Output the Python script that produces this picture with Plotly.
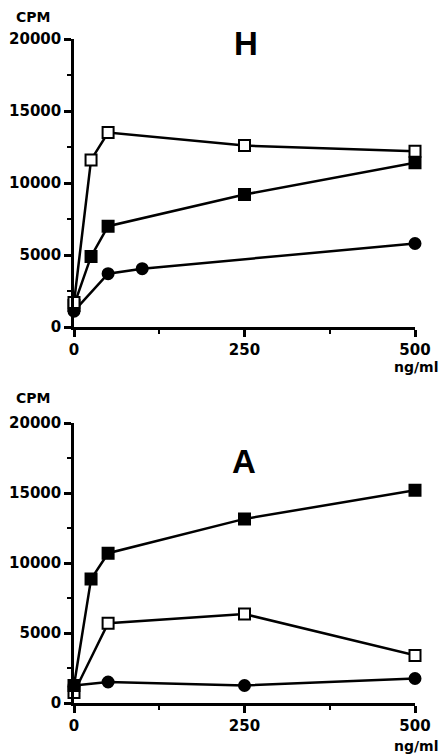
import plotly.graph_objects as go
from plotly.subplots import make_subplots

# Panel H
h_open_x = [0, 25, 50, 250, 500]
h_open_y = [1700, 11600, 13500, 12600, 12200]
h_fill_x = [0, 25, 50, 250, 500]
h_fill_y = [1500, 4900, 7000, 9200, 11400]
h_circ_x = [0, 50, 100, 500]
h_circ_y = [1100, 3700, 4050, 5800]

# Panel A
a_fill_x = [0, 25, 50, 250, 500]
a_fill_y = [1250, 8850, 10700, 13150, 15200]
a_open_x = [0, 50, 250, 500]
a_open_y = [750, 5700, 6350, 3400]
a_circ_x = [0, 50, 250, 500]
a_circ_y = [1250, 1500, 1250, 1750]

x_ticks = [0, 250, 500]
y_ticks = [0, 5000, 10000, 15000, 20000]

W, H = 440, 754
ML, MR, MT, MB = 74, 25, 39, 51
PW, PH = W - ML - MR, H - MT - MB

fig = make_subplots(rows=2, cols=1, vertical_spacing=0.1)

TICKFONT = "DejaVu Sans"
TITLEFONT = "Liberation Sans"


def add_series(row, xs, ys, symbol, fill):
    fig.add_trace(go.Scatter(
        x=xs, y=ys, mode="lines+markers", cliponaxis=False,
        line=dict(color="black", width=2.5),
        marker=dict(symbol=symbol, size=11, color=fill,
                    line=dict(color="black", width=2)),
        showlegend=False), row=row, col=1)


add_series(1, h_circ_x, h_circ_y, "circle", "black")
add_series(1, h_fill_x, h_fill_y, "square", "black")
add_series(1, h_open_x, h_open_y, "square", "white")
add_series(2, a_circ_x, a_circ_y, "circle", "black")
add_series(2, a_open_x, a_open_y, "square", "white")
add_series(2, a_fill_x, a_fill_y, "square", "black")


def py(pix):
    return (H - MB - pix) / PH


def px(pix):
    return (pix - ML) / PW


top_dom = [py(327), py(39)]
bot_dom = [py(703), py(423)]

for i, dom in ((1, top_dom), (2, bot_dom)):
    xa = "xaxis" if i == 1 else "xaxis2"
    ya = "yaxis" if i == 1 else "yaxis2"
    fig.layout[xa].update(
        range=[0, 500], domain=[0, 1], tickvals=x_ticks,
        ticktext=[str(v) for v in x_ticks], automargin=False,
        showline=True, linecolor="black", linewidth=2.5, showgrid=False,
        zeroline=False, ticks="outside", ticklen=7, tickwidth=2.5,
        tickcolor="black",
        minor=dict(tickvals=[125, 375], ticks="outside", ticklen=4,
                   tickwidth=2, tickcolor="black"),
        tickfont=dict(family=TICKFONT, size=15, color="black", weight="bold"))
    fig.layout[ya].update(
        range=[0, 20000], domain=dom, tickvals=y_ticks,
        ticktext=[str(v) for v in y_ticks], automargin=False,
        showline=True, linecolor="black", linewidth=2.5, showgrid=False,
        zeroline=False, ticks="outside", ticklen=7, tickwidth=2.5,
        tickcolor="black",
        minor=dict(tickvals=[2500, 7500, 12500, 17500], ticks="outside",
                   ticklen=4, tickwidth=2, tickcolor="black"),
        tickfont=dict(family=TICKFONT, size=15, color="black", weight="bold"))

ann_font = dict(family=TICKFONT, size=14, color="black", weight="bold")
title_font = dict(family=TITLEFONT, size=33, color="black", weight="bold")
anns = [
    ("CPM", 33, 17, ann_font),
    ("CPM", 33, 398, ann_font),
    ("ng/ml", 416, 367, ann_font),
    ("ng/ml", 416, 746, ann_font),
    ("H", 246, 44, title_font),
    ("A", 244, 462, title_font),
]
for text, x, y, f in anns:
    fig.add_annotation(text=text, xref="paper", yref="paper",
                       x=px(x), y=py(y), xanchor="center", yanchor="middle",
                       showarrow=False, font=f)

fig.update_layout(width=W, height=H, plot_bgcolor="white",
                  paper_bgcolor="white",
                  margin=dict(l=ML, r=MR, t=MT, b=MB, autoexpand=False))

fig.write_html(
    "out.html",
    config={"displayModeBar": False},
    post_script="document.body.style.margin='0';"
                "document.body.style.overflow='hidden';")
